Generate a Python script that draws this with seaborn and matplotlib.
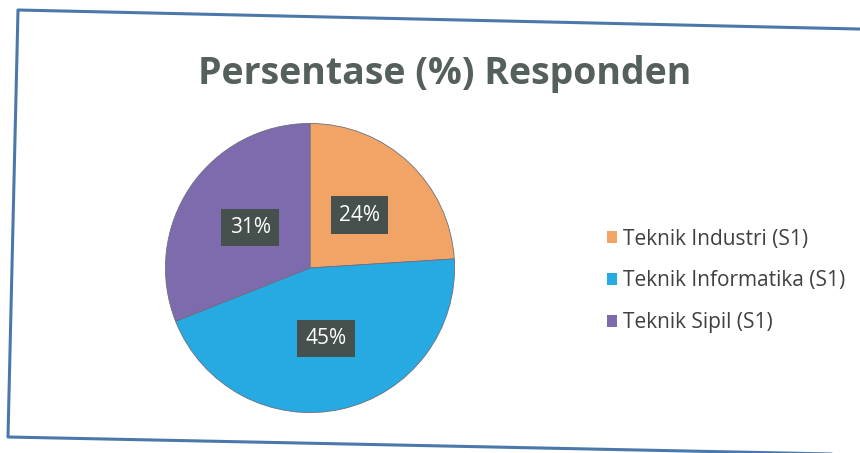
import numpy as np
import pandas as pd
import seaborn as sns
import matplotlib.pyplot as plt
from matplotlib.lines import Line2D
from matplotlib.patches import Patch

sns.set_theme(style="white")
plt.rcParams['font.family'] = ['Open Sans', 'DejaVu Sans']

# data
jurusan = ['Teknik Industri (S1)', 'Teknik Informatika (S1)', 'Teknik Sipil (S1)']
persen = [24, 45, 31]
warna = ['#F2A466', '#27A9E1', '#7E6BAD']

W, H = 860, 453
fig = plt.figure(figsize=(8.6, 4.53), dpi=100)
fig.patch.set_facecolor('white')

# bingkai chart (hasil scan agak miring)
bx = np.array([880, 18, 8, 880])
by = np.array([29.5, 10, 437, 455])
fig.lines.append(Line2D(bx / W, 1 - by / H, transform=fig.transFigure,
                        color='#4A78AA', linewidth=2.2))

ax = fig.add_axes([(310 - 146) / W, 1 - (268 + 146) / H, 292 / W, 292 / H])
wedges, texts, autotexts = ax.pie(persen, colors=warna, startangle=90, counterclock=False,
                                  autopct='%1.0f%%', pctdistance=0.5,
                                  wedgeprops=dict(linewidth=0.6, edgecolor='#6B6F80'),
                                  textprops=dict(color='white', fontsize=15))
for t in autotexts:
    t.set_bbox(dict(boxstyle='square,pad=0.4', facecolor='#46504D', edgecolor='none'))
ax.set_xlim(-1.01, 1.01)
ax.set_ylim(-1.01, 1.01)
ax.set_aspect('equal')

fig.text(445 / W, 1 - 74 / H, 'Persentase (%) Responden', ha='center', va='center',
         fontsize=27, fontweight='bold', color='#55605C')

handles = [Patch(facecolor=c, edgecolor='none') for c in warna]
fig.legend(handles, jurusan, loc='center left', bbox_to_anchor=(588 / W, 1 - 281 / H),
           frameon=False, fontsize=15, labelcolor='#404040', handlelength=0.5,
           handleheight=0.5, handletextpad=0.3, labelspacing=1.0)

plt.savefig('out.png', dpi=100)
